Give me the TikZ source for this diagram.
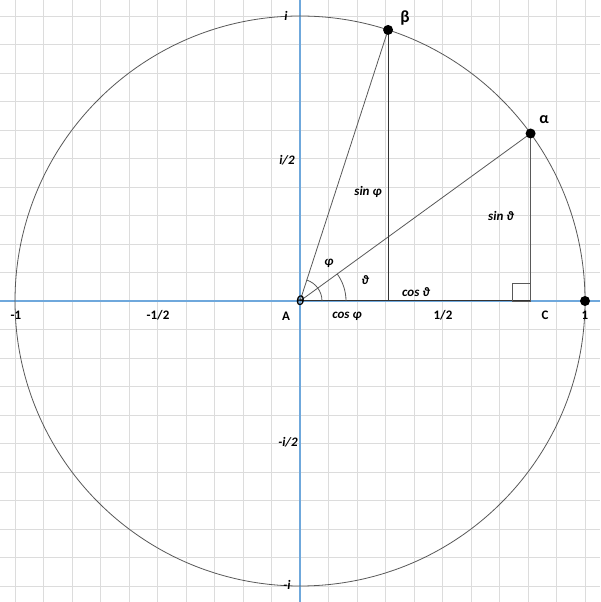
\documentclass[tikz,border=0pt]{standalone}
\usepackage{fontspec}
\setmainfont{Carlito}
\usetikzlibrary{calc}
\definecolor{axisblue}{HTML}{6FA8DC}
\definecolor{gridgray}{HTML}{DCDCDC}
\begin{document}
\begin{tikzpicture}[x=1pt,y=1pt,
  gridline/.style={draw=gridgray,line width=0.9pt},
  axisline/.style={draw=axisblue,line width=1.3pt},
  thinline/.style={draw=black!65,line width=0.8pt},
  darkline/.style={draw=black!80,line width=1pt},
  lbl/.style={font=\bfseries\itshape\fontsize{13}{15}\selectfont,inner sep=0pt},
  num/.style={font=\bfseries\fontsize{13}{15}\selectfont,inner sep=0pt},
  greek/.style={font=\bfseries\fontsize{17}{19}\selectfont,inner sep=0pt},
  dot/.style={circle,fill=black,inner sep=0pt,minimum size=10pt}]
\useasboundingbox (0,0) rectangle (600,602);
\fill[white] (0,0) rectangle (600,602);
% grid
\foreach \k in {-10,...,10} {
  \draw[gridline] ({300+28.5*\k},0) -- ({300+28.5*\k},602);
  \draw[gridline] (0,{301+28.5*\k}) -- (600,{301+28.5*\k});
}
\coordinate (O) at (300,301);
\coordinate (L) at (0,301);
\coordinate (R) at (600,301);
\coordinate (T) at (300,602);
\coordinate (B) at (300,0);
\draw[axisline] (L) -- (R);
\draw[axisline] (B) -- (T);
% circle
\draw[thinline] (O) circle (285);
% points
\coordinate (Pb) at ($(O)+(72:285)$);
\coordinate (Pa) at ($(O)+(36:285)$);
\coordinate (Fb) at (Pb |- O);
\coordinate (C) at (Pa |- O);
\coordinate (P1) at (585,301);
% triangle lines
\draw[thinline] (O) -- (Pb);
\draw[thinline] (O) -- (Pa);
\draw[darkline] (Pb) -- (Fb);
\draw[thinline] (Pa) -- (C);
\draw[darkline] (O) -- (C);
% right angle
\draw[thinline] ($(C)+(-18,0)$) rectangle ($(C)+(0,18)$);
% angle arcs
\draw[thinline] ($(O)+(22,0)$) arc[start angle=0,end angle=72,radius=22];
\draw[thinline] ($(O)+(46,0)$) arc[start angle=0,end angle=36,radius=46];
% dots
\node[dot] (b) at (Pb) {};
\node[dot] (a) at (Pa) {};
\node[dot] (one) at (P1) {};
% labels
\node[greek] (lb) at (405,584) {β};
\node[greek,font=\bfseries\fontsize{16}{18}\selectfont] (la) at (544,482) {α};
\node[lbl,font=\bfseries\itshape\fontsize{14}{16}\selectfont] (lo) at (300,301) {θ};
\node[lbl] (lphi) at (329,339) {φ};
\node[lbl] (lth) at (365,322) {ϑ};
\node[lbl] (lcphi) at (347,286) {cos φ};
\node[lbl] (lcth) at (416,310) {cos ϑ};
\node[lbl] (lsphi) at (368,410) {sin φ};
\node[lbl] (lsth) at (501,386) {sin ϑ};
\node[lbl] (li) at (286,586) {i};
\node[lbl] (lmi) at (287,17) {-i};
\node[lbl] (li2) at (287,442) {i/2};
\node[lbl] (lmi2) at (288,160) {-i/2};
\node[num] (lm1) at (16,287) {-1};
\node[num] (lmh) at (158,287) {-1/2};
\node[num] (lA) at (286,286) {A};
\node[num] (lh) at (443,287) {1/2};
\node[num] (lC) at (545,287) {C};
\node[num] (l1) at (585,287) {1};
\end{tikzpicture}
\end{document}
